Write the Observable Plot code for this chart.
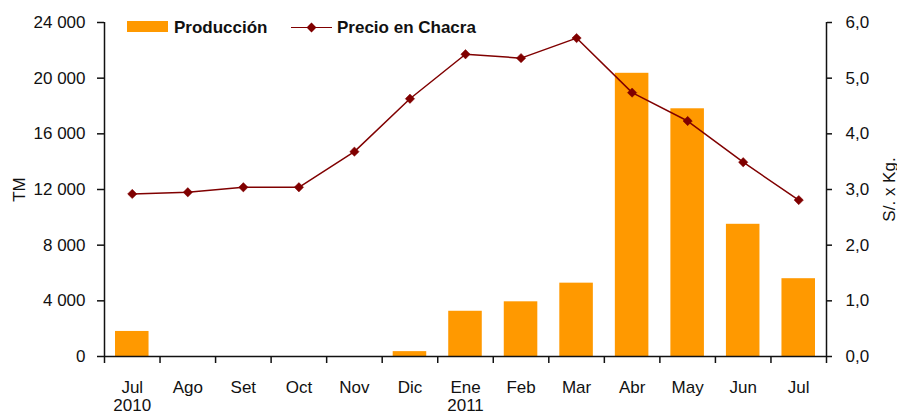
<!DOCTYPE html>
<html>
<head>
<meta charset="utf-8">
<script src="https://cdn.jsdelivr.net/npm/d3@7"></script>
<script src="https://cdn.jsdelivr.net/npm/@observablehq/plot@0.6"></script>
<style>
  html, body { margin: 0; padding: 0; background: #fff; }
  #wrap { position: relative; width: 897px; height: 414px; overflow: hidden; font-family: "Liberation Sans", Arial, sans-serif; }
  .lg { position: absolute; }
  .lgt { position: absolute; font-size: 17px; font-weight: bold; line-height: 1; color: #111; white-space: nowrap; }
</style>
</head>
<body>
<div id="wrap"></div>
<script>
const months = ["Jul", "Ago", "Set", "Oct", "Nov", "Dic", "Ene", "Feb", "Mar", "Abr", "May", "Jun", "Jul"];
const years = ["2010", "", "", "", "", "", "2011", "", "", "", "", "", ""];
const produccion = [1800, 0, 0, 0, 0, 350, 3250, 3930, 5270, 20350, 17800, 9500, 5590];
const precio = [2.92, 2.95, 3.04, 3.04, 3.68, 4.63, 5.43, 5.36, 5.72, 4.74, 4.23, 3.49, 2.81];
const leftTicks = [0, 4000, 8000, 12000, 16000, 20000, 24000];
const rightTicks = [0, 1, 2, 3, 4, 5, 6];

const K = 4000; // right axis (S/.) -> left axis (TM)
const data = months.map((m, i) => ({i, month: m, prod: produccion[i], price: precio[i]}));
const orange = "#FF9900";
const maroon = "#800000";
const fmtTM = d => d3.format(",")(d).replace(/,/g, " ");

const plot = Plot.plot({
  width: 897,
  height: 414,
  marginLeft: 104,
  marginRight: 71,
  marginTop: 22,
  marginBottom: 58,
  style: {fontSize: "17px", fontFamily: "Liberation Sans, Arial, sans-serif", color: "#111", background: "#fff"},
  x: {domain: [-0.5, months.length - 0.5]},
  y: {domain: [0, 24000]},
  marks: [
    Plot.rectY(data, {x1: d => d.i - 0.5, x2: d => d.i + 0.5, y: "prod", fill: orange, insetLeft: 11, insetRight: 11}),
    Plot.line(data, {x: "i", y: d => d.price * K, stroke: maroon, strokeWidth: 1.5}),
    Plot.dot(data, {x: "i", y: d => d.price * K, symbol: "diamond2", r: 4.2, fill: maroon, stroke: maroon, strokeWidth: 0.5}),
    Plot.ruleY([0], {stroke: "#111", strokeWidth: 1.5}),
    Plot.ruleX([-0.5, months.length - 0.5], {stroke: "#111", strokeWidth: 1.5}),
    Plot.axisY({anchor: "left", ticks: leftTicks, tickFormat: fmtTM, tickSize: 7, tickPadding: 12, stroke: "#111", strokeWidth: 1.5,
      label: "TM", labelAnchor: "center", labelArrow: "none", labelOffset: 92}),
    Plot.axisY({anchor: "right", ticks: rightTicks.map(v => v * K), tickFormat: d => (d / K).toFixed(1).replace(".", ","), tickSize: 5, tickPadding: 14, stroke: "#111", strokeWidth: 1.5,
      label: "S/. x Kg.", labelAnchor: "center", labelArrow: "none", labelOffset: 68}),
    Plot.axisX({ticks: d3.range(-0.5, months.length, 1), tickFormat: () => "", tickSize: 7, stroke: "#111", strokeWidth: 1.5, label: null}),
    Plot.axisX({ticks: d3.range(months.length), tickFormat: i => months[i], tickSize: 0, tickPadding: 24, label: null}),
    Plot.axisX({ticks: d3.range(months.length).filter(i => years[i]), tickFormat: i => years[i], tickSize: 0, tickPadding: 42, label: null})
  ]
});

const wrap = document.getElementById("wrap");
wrap.appendChild(plot);

// legend overlay
const legend = [
  {type: "bar", label: "Producción", color: orange},
  {type: "line", label: "Precio en Chacra", color: maroon}
];
function add(cls, css, text) {
  const el = document.createElement("div");
  el.className = cls;
  Object.assign(el.style, css);
  if (text) el.textContent = text;
  wrap.appendChild(el);
  return el;
}
add("lg", {left: "127px", top: "21px", width: "41px", height: "11px", background: legend[0].color});
add("lgt", {left: "174px", top: "18.5px"}, legend[0].label);
add("lg", {left: "291px", top: "26.5px", width: "41px", height: "1.5px", background: legend[1].color});
add("lg", {left: "307.5px", top: "23.5px", width: "7px", height: "7px", background: legend[1].color, transform: "rotate(45deg)"});
add("lgt", {left: "337px", top: "18.5px"}, legend[1].label);
</script>
</body>
</html>
